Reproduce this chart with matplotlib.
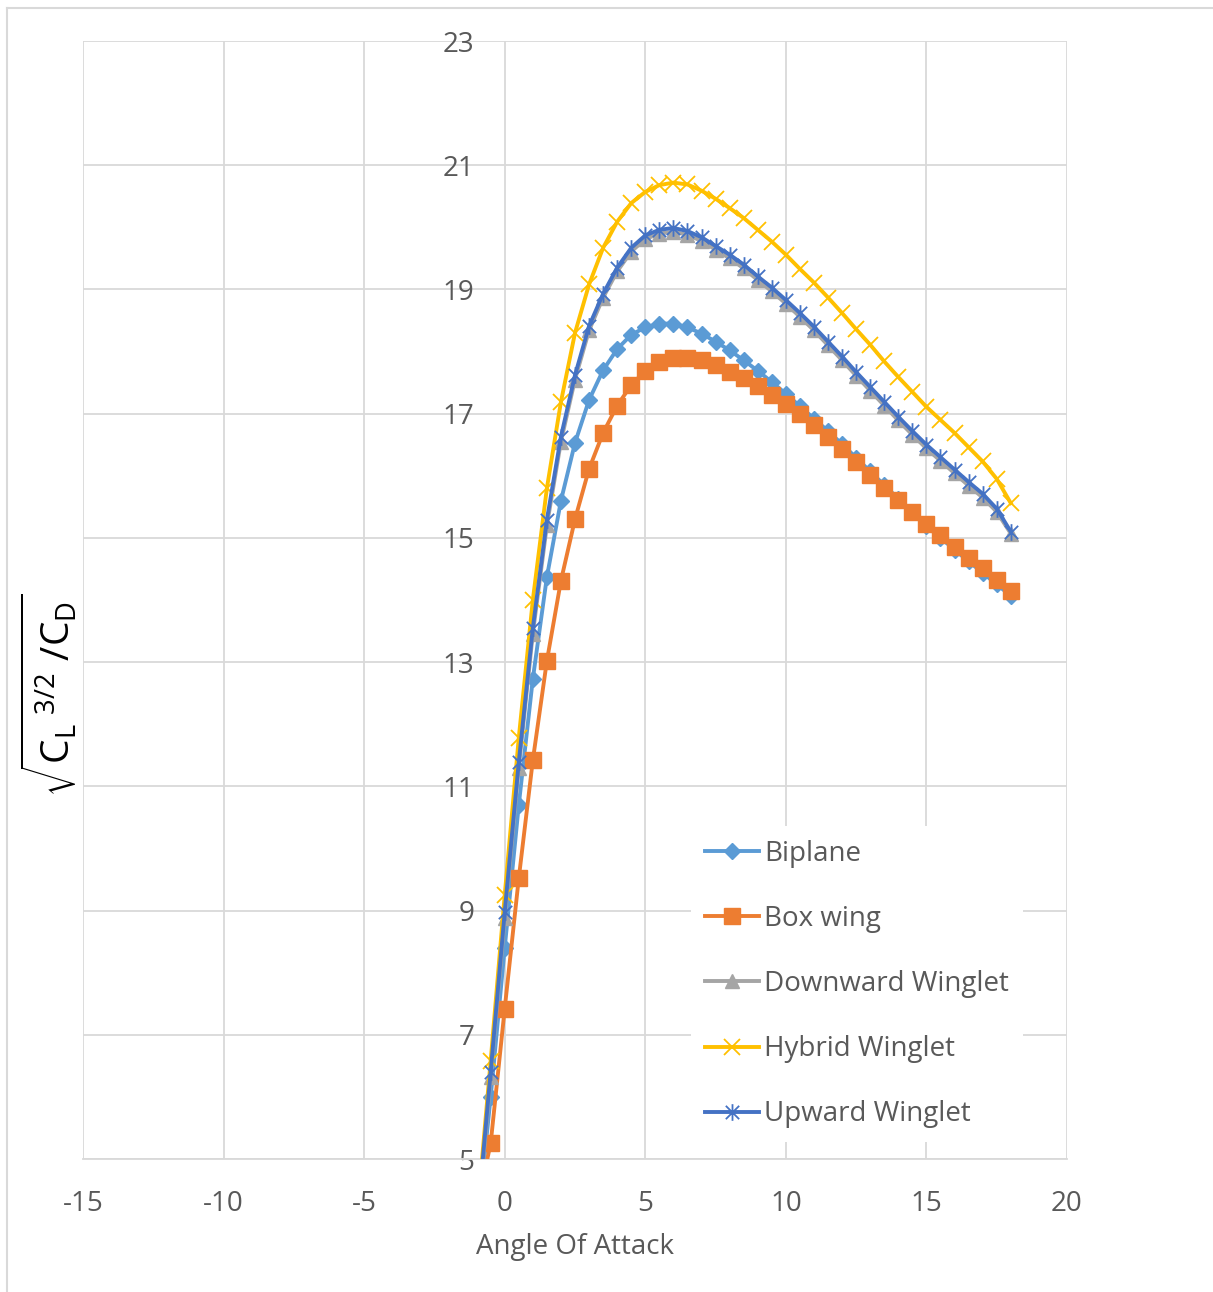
import matplotlib
matplotlib.use("Agg")
import matplotlib.pyplot as plt
from matplotlib.path import Path
from matplotlib.lines import Line2D

plt.rcParams['font.family'] = ['Open Sans', 'DejaVu Sans']
plt.rcParams['mathtext.fontset'] = 'custom'
plt.rcParams['mathtext.rm'] = 'Open Sans'
plt.rcParams['mathtext.it'] = 'Open Sans'
plt.rcParams['axes.unicode_minus'] = False

# ---------------- data ----------------
aoa = [-1, -0.5, 0, 0.5, 1, 1.5, 2, 2.5, 3, 3.5, 4, 4.5, 5, 5.5, 6, 6.5, 7, 7.5,
       8, 8.5, 9, 9.5, 10, 10.5, 11, 11.5, 12, 12.5, 13, 13.5, 14, 14.5, 15, 15.5,
       16, 16.5, 17, 17.5, 18]

biplane = [3.8, 6.0, 8.40, 10.70, 12.73, 14.37, 15.60, 16.53, 17.22, 17.70, 18.04,
           18.27, 18.39, 18.45, 18.45, 18.39, 18.29, 18.16, 18.02, 17.86, 17.69,
           17.51, 17.32, 17.12, 16.92, 16.72, 16.51, 16.29, 16.07, 15.85, 15.63,
           15.41, 15.19, 15.00, 14.81, 14.62, 14.44, 14.25, 14.07]

box_wing = [4.2, 5.25, 7.42, 9.52, 11.42, 13.02, 14.31, 15.30, 16.11, 16.69, 17.13,
            17.46, 17.69, 17.83, 17.89, 17.90, 17.86, 17.78, 17.67, 17.57, 17.44,
            17.30, 17.16, 17.00, 16.82, 16.63, 16.43, 16.22, 16.01, 15.80, 15.61,
            15.42, 15.22, 15.04, 14.86, 14.68, 14.51, 14.33, 14.15]

downward = [3.8, 6.32, 8.88, 11.30, 13.46, 15.20, 16.55, 17.55, 18.34, 18.87, 19.29,
            19.61, 19.81, 19.90, 19.93, 19.88, 19.78, 19.64, 19.50, 19.34, 19.15,
            18.97, 18.77, 18.56, 18.34, 18.10, 17.86, 17.61, 17.37, 17.13, 16.89,
            16.66, 16.44, 16.24, 16.04, 15.84, 15.65, 15.42, 15.07]

hybrid = [4.0, 6.58, 9.25, 11.78, 14.00, 15.80, 17.19, 18.30, 19.08, 19.67, 20.09,
          20.39, 20.57, 20.68, 20.72, 20.69, 20.59, 20.46, 20.31, 20.15, 19.96,
          19.77, 19.56, 19.33, 19.11, 18.87, 18.62, 18.36, 18.11, 17.84, 17.59,
          17.35, 17.11, 16.90, 16.69, 16.46, 16.23, 15.95, 15.56]

upward = [3.9, 6.40, 8.98, 11.39, 13.55, 15.29, 16.63, 17.62, 18.41, 18.93, 19.35,
          19.67, 19.87, 19.96, 19.99, 19.94, 19.84, 19.70, 19.56, 19.40, 19.21,
          19.03, 18.83, 18.62, 18.40, 18.16, 17.92, 17.67, 17.43, 17.19, 16.95,
          16.72, 16.50, 16.30, 16.10, 15.90, 15.71, 15.47, 15.10]

series_names = ["Biplane", "Box wing", "Downward Winglet", "Hybrid Winglet", "Upward Winglet"]
x_ticks = [-15, -10, -5, 0, 5, 10, 15, 20]
y_ticks = [5, 7, 9, 11, 13, 15, 17, 19, 21, 23]

# ---------------- figure ----------------
W, H = 1213, 1292
fig = plt.figure(figsize=(W / 100, H / 100), dpi=100)
ax = fig.add_axes([83 / W, 1 - 1159 / H, (1067 - 83) / W, (1159 - 41) / H])

grid_c = '#d9d9d9'
txt_c = '#595959'

star = Path([(-1, -1), (1, 1), (-1, 1), (1, -1), (0, -1.25), (0, 1.25)],
            [Path.MOVETO, Path.LINETO, Path.MOVETO, Path.LINETO, Path.MOVETO, Path.LINETO])

lw = 2.8
styles = [
    dict(color='#5B9BD5', marker='D', ms=8, mec='#5B9BD5', mfc='#5B9BD5'),
    dict(color='#ED7D31', marker='s', ms=11, mec='#ED7D31', mfc='#ED7D31'),
    dict(color='#A5A5A5', marker='^', ms=10, mec='#A5A5A5', mfc='#A5A5A5'),
    dict(color='#FFC000', marker='x', ms=11, mec='#FFC000', mew=1.3),
    dict(color='#4472C4', marker=star, ms=12, mec='#4472C4', mfc='none', mew=1.3),
]
data = [biplane, box_wing, downward, hybrid, upward]
for name, ys, st in zip(series_names, data, styles):
    ax.plot(aoa, ys, lw=lw, label=name, zorder=3, **st)

ax.set_xlim(-15, 20)
ax.set_ylim(5, 23)
ax.set_xticks(x_ticks)
ax.set_yticks(y_ticks)
ax.grid(True, color=grid_c, lw=1.3, zorder=0)
ax.set_axisbelow(True)

for s in ['top', 'right']:
    ax.spines[s].set_visible(False)
ax.spines['left'].set_position(('data', 0))
ax.spines['left'].set_visible(False)
ax.spines['bottom'].set_color(grid_c)
ax.spines['bottom'].set_linewidth(1.3)

ax.tick_params(axis='y', length=0, pad=22, labelsize=20, labelcolor=txt_c)
ax.tick_params(axis='x', length=0, pad=22, labelsize=20, labelcolor=txt_c)

# x label
fig.text(575 / W, 1 - 1247 / H, "Angle Of Attack", ha='center', va='center',
         fontsize=20, color=txt_c)
# y label
fig.text(50 / W, 1 - 695 / H, r'$\sqrt{\mathrm{C_L}^{\ 3/2}\ /\mathrm{C_D}}$',
         rotation=90, ha='center', va='center', fontsize=28, color='black')

leg = ax.legend(loc='center left', bbox_to_anchor=(677 / W, 1 - 984 / H),
                bbox_transform=fig.transFigure, frameon=True, fancybox=False,
                facecolor='white', edgecolor='none', framealpha=1,
                fontsize=20, handlelength=1.95, handletextpad=0.2,
                labelspacing=1.34, borderpad=0.5, labelcolor=txt_c)

# chart-area border
fig.add_artist(Line2D([7 / W, 7 / W], [0, 1 - 8 / H], color='#d9d9d9', lw=1.5,
                      transform=fig.transFigure))
fig.add_artist(Line2D([7 / W, 1], [1 - 8 / H, 1 - 8 / H], color='#d9d9d9', lw=1.5,
                      transform=fig.transFigure))

fig.savefig("out.png", dpi=100)
